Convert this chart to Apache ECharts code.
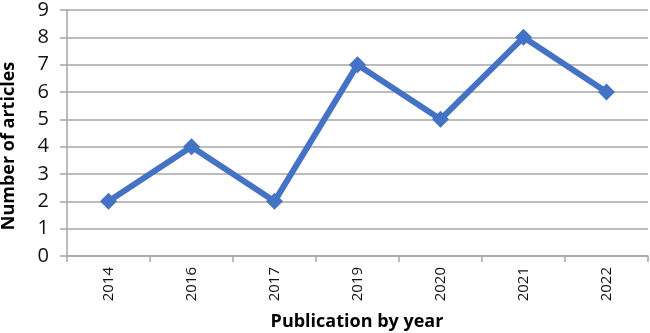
<!DOCTYPE html>
<html><head><meta charset="utf-8">
<script src="https://cdn.jsdelivr.net/npm/echarts@6/dist/echarts.min.js"></script>
<style>html,body{margin:0;padding:0;background:#fff}#c{width:650px;height:333px}</style>
</head><body><div id="c"></div>
<script>
var categories = ['2014','2016','2017','2019','2020','2021','2022'];
var articles = [2,4,2,7,5,8,6];
var yTicks = [0,1,2,3,4,5,6,7,8,9];
var xTitle = 'Publication by year';
var yTitle = 'Number of articles';

var chart = echarts.init(document.getElementById('c'), null, {renderer:'canvas'});
chart.setOption({
  animation:false,
  grid:{left:67,right:2,top:4,bottom:77,containLabel:false},
  xAxis:{type:'category',data:categories,boundaryGap:true,
    axisLine:{lineStyle:{color:'#A6A6A6',width:1.5}},
    axisTick:{show:true,alignWithLabel:false,length:6,lineStyle:{color:'#A6A6A6',width:1.5}},
    axisLabel:{rotate:90,color:'#111',fontFamily:'Open Sans',fontSize:15,margin:11}},
  yAxis:{type:'value',min:yTicks[0],max:yTicks[yTicks.length-1],interval:1,
    axisLine:{show:true,lineStyle:{color:'#A6A6A6',width:1.5}},
    axisTick:{show:true,length:7,lineStyle:{color:'#A6A6A6',width:1.5}},
    splitLine:{lineStyle:{color:'#A6A6A6',width:1.5}},
    axisLabel:{color:'#111',fontFamily:'Open Sans',fontSize:20,margin:18}},
  graphic:[
    {type:'text',x:357,y:313,style:{text:xTitle,font:'bold 18px "Open Sans"',fill:'#000',align:'center',verticalAlign:'top'}},
    {type:'text',rotation:Math.PI/2,x:0,y:146,style:{text:yTitle,font:'bold 18px "Open Sans"',fill:'#000',align:'center',verticalAlign:'top'}}
  ],
  series:[{type:'line',data:articles,symbol:'diamond',symbolSize:17,
    lineStyle:{color:'#4472C4',width:6},itemStyle:{color:'#4472C4'}}]
});
</script></body></html>
